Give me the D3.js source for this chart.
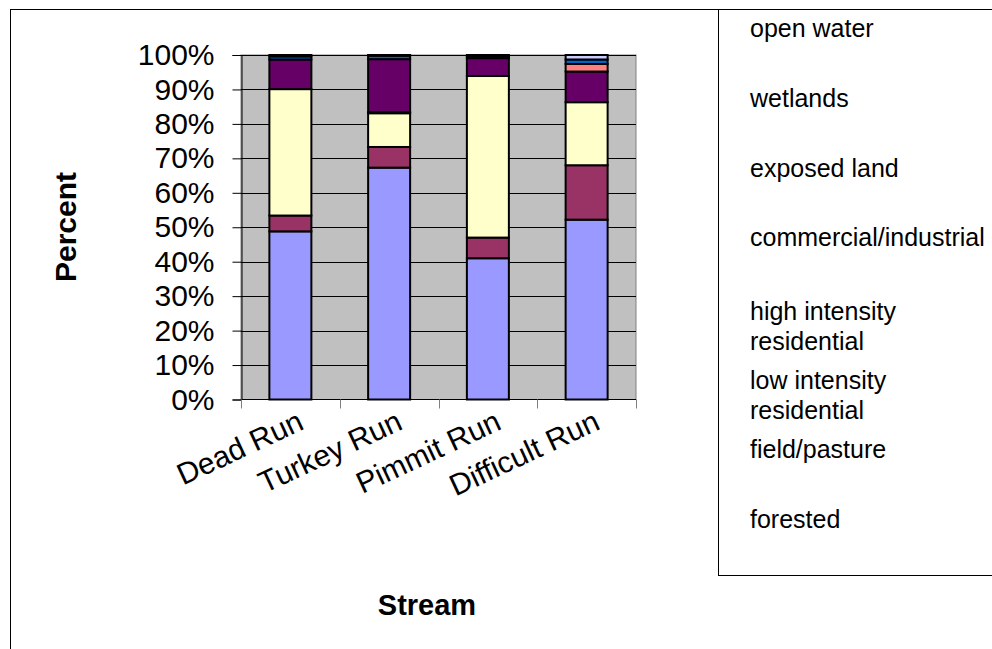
<!DOCTYPE html>
<html>
<head>
<meta charset="utf-8">
<script src="https://cdn.jsdelivr.net/npm/d3@7"></script>
<style>
  html, body { margin: 0; padding: 0; background: #fff; }
  svg { display: block; font-family: Arial, "Liberation Sans", sans-serif; }
</style>
</head>
<body>
<svg id="chart" width="992" height="649"></svg>
<script>
// Land use composition of four stream watersheds (percent of area)
const streams = ["Dead Run", "Turkey Run", "Pimmit Run", "Difficult Run"];
const landUses = ["forested", "field/pasture", "low intensity residential",
  "high intensity residential", "commercial/industrial", "exposed land",
  "wetlands", "open water"];
const forested        = [48.8, 67.3, 41.0, 52.2];
const fieldPasture    = [4.6, 6.0, 6.0, 15.8];
const lowResidential  = [36.7, 9.8, 46.9, 18.3];
const highResidential = [0.0, 0.3, 0.0, 0.0];
const commercial      = [8.6, 15.4, 5.2, 8.9];
const exposedLand     = [0.0, 0.0, 0.0, 2.2];
const wetlands        = [0.9, 1.0, 0.6, 1.3];
const openWater       = [0.4, 0.2, 0.3, 1.3];
const yTicks = [0, 0.1, 0.2, 0.3, 0.4, 0.5, 0.6, 0.7, 0.8, 0.9, 1.0];
const legendLines = [["open water"], ["wetlands"], ["exposed land"], ["commercial/industrial"],
  ["high intensity", "residential"], ["low intensity", "residential"], ["field/pasture"], ["forested"]];

const seriesValues = [forested, fieldPasture, lowResidential, highResidential,
  commercial, exposedLand, wetlands, openWater];
const colors = ["#9999FF", "#993366", "#FFFFCC", "#CCFFFF", "#660066", "#FF8080", "#0066CC", "#CCCCFF"];

const rows = streams.map((s, i) => {
  const r = { stream: s };
  landUses.forEach((k, j) => r[k] = seriesValues[j][i]);
  return r;
});

const svg = d3.select("#chart");

// outer chart frame and legend frame
svg.append("rect").attr("x", 10.5).attr("y", 9.5).attr("width", 1200).attr("height", 1200)
  .attr("fill", "#fff").attr("stroke", "#000").attr("stroke-width", 1);
svg.append("rect").attr("x", 718.5).attr("y", 9.5).attr("width", 400).attr("height", 566)
  .attr("fill", "#fff").attr("stroke", "#000").attr("stroke-width", 1);

const plot = { left: 241, right: 636, top: 55, bottom: 399.5 };

const x = d3.scaleBand().domain(streams).range([plot.left, plot.right]).paddingInner(0).paddingOuter(0);
const y = d3.scaleLinear().domain([0, 1]).range([plot.bottom, plot.top]);

// plot area
svg.append("rect").attr("x", plot.left).attr("y", plot.top)
  .attr("width", plot.right - plot.left).attr("height", plot.bottom - plot.top)
  .attr("fill", "#C0C0C0").attr("stroke", "#808080").attr("stroke-width", 1);

// gridlines
svg.append("g").selectAll("line").data(yTicks.slice(1)).join("line")
  .attr("x1", plot.left).attr("x2", plot.right)
  .attr("y1", d => Math.round(y(d)) + 0.5).attr("y2", d => Math.round(y(d)) + 0.5)
  .attr("stroke", "#000").attr("stroke-width", 1);

// stacked bars
const stack = d3.stack().keys(landUses).offset(d3.stackOffsetExpand);
const layers = stack(rows);
const barW = 42;
svg.append("g").selectAll("g").data(layers).join("g")
  .attr("fill", (d, i) => colors[i])
  .selectAll("rect").data(d => d.filter(p => p[1] - p[0] > 0)).join("rect")
  .attr("x", d => x(d.data.stream) + x.bandwidth() / 2 - barW / 2)
  .attr("width", barW)
  .attr("y", d => y(d[1]))
  .attr("height", d => y(d[0]) - y(d[1]))
  .attr("stroke", "#000").attr("stroke-width", 2);

// y axis
const yAxis = d3.axisLeft(y).tickValues(yTicks).tickFormat(d3.format(".0%")).tickSize(9).tickPadding(18);
const gy = svg.append("g").attr("transform", `translate(${plot.left + 0.5},0)`).call(yAxis);
gy.select(".domain").attr("stroke", "#000");
gy.selectAll(".tick line").attr("stroke", "#000");
gy.selectAll("text").attr("font-size", 30).attr("fill", "#000").attr("font-family", "Arial, 'Liberation Sans', sans-serif");

// x axis: ticks at category boundaries
const gx = svg.append("g").attr("transform", `translate(0,${plot.bottom})`);
gx.append("line").attr("x1", plot.left).attr("x2", plot.right).attr("stroke", "#000");
const bounds = streams.map(s => x(s)).concat([x(streams[streams.length - 1]) + x.bandwidth()]);
gx.selectAll(".bt").data(bounds).join("line").attr("class", "bt")
  .attr("x1", d => Math.round(d) + 0.5).attr("x2", d => Math.round(d) + 0.5)
  .attr("y1", 0).attr("y2", 9).attr("stroke", "#808080");
gx.selectAll("text").data(streams).join("text")
  .attr("transform", d => `translate(${x(d) + x.bandwidth() / 2 + 15},${29}) rotate(-25)`)
  .attr("text-anchor", "end").attr("font-size", 30).attr("fill", "#000")
  .text(d => d);

// axis titles
svg.append("text").attr("transform", "translate(76,227) rotate(-90)")
  .attr("text-anchor", "middle").attr("font-size", 30).attr("font-weight", "bold").text("Percent");
svg.append("text").attr("x", 427).attr("y", 615)
  .attr("text-anchor", "middle").attr("font-size", 29).attr("font-weight", "bold").text("Stream");

// legend (text only)
const legendY = [37, 107, 177, 246, 320, 389, 458, 528];
const lg = svg.append("g");
legendLines.forEach((lines, i) => {
  lines.forEach((t, k) => {
    lg.append("text").attr("x", 750).attr("y", legendY[i] + k * 30)
      .attr("font-size", 25).attr("fill", "#000").text(t);
  });
});
</script>
</body>
</html>
